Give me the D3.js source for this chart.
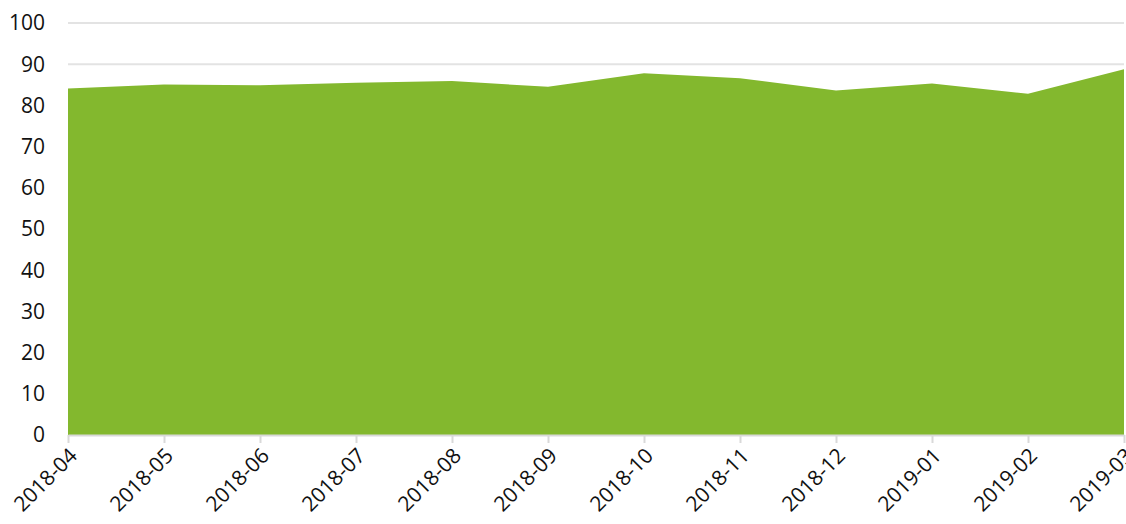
<!DOCTYPE html>
<html lang="en">
<head>
    <meta charset="UTF-8">
    <title>area chart</title>
    <script src="https://d3js.org/d3.v7.min.js"></script>
    <style>
        body { margin: 0; background: #fff; }
        text {
            font-family: "Open Sans", sans-serif;
            font-size: 21px;
            fill: #111;
        }
        .grid line { stroke: #e3e3e3; stroke-width: 2; }
        .area { fill: #83b82e; }
    </style>
</head>
<body>
<div id="chart"></div>
<script>
    const width = 1126;
    const height = 524;

    const months = ["2018-04", "2018-05", "2018-06", "2018-07", "2018-08", "2018-09",
        "2018-10", "2018-11", "2018-12", "2019-01", "2019-02", "2019-03"];
    const values = [84.1, 85.1, 84.9, 85.5, 85.9, 84.5, 87.8, 86.6, 83.6, 85.3, 82.8, 88.8];
    const yTicks = [0, 10, 20, 30, 40, 50, 60, 70, 80, 90, 100];

    const x = d3.scalePoint().domain(months).range([68, 1124]);
    const y = d3.scaleLinear().domain([0, 100]).range([435, 23]);

    const svg = d3.select("#chart").append("svg")
        .attr("width", width).attr("height", height);

    // gridlines
    svg.append("g").attr("class", "grid")
        .selectAll("line")
        .data(yTicks.filter(d => d > 0))
        .enter().append("line")
        .attr("x1", 68).attr("x2", 1124)
        .attr("y1", d => y(d)).attr("y2", d => y(d));

    // area
    const area = d3.area()
        .x((d, i) => x(months[i]))
        .y0(y(0))
        .y1(d => y(d));
    svg.append("path").datum(values).attr("class", "area").attr("d", area);

    // y labels
    svg.append("g").selectAll("text")
        .data(yTicks)
        .enter().append("text")
        .attr("x", 45).attr("y", d => y(d))
        .attr("dy", "0.35em")
        .attr("text-anchor", "end")
        .text(d => d);

    // x axis
    const xAxis = svg.append("g")
        .attr("transform", `translate(0,${y(0)})`)
        .call(d3.axisBottom(x).tickSize(8).tickSizeOuter(0));
    xAxis.select(".domain").attr("stroke", "#d9d9d9").attr("stroke-width", 2);
    xAxis.selectAll(".tick line").attr("stroke", "#d9d9d9").attr("stroke-width", 2);
    xAxis.selectAll(".tick text")
        .attr("font-size", 21)
        .attr("font-family", "'Open Sans', sans-serif")
        .attr("fill", "#111")
        .attr("text-anchor", "end")
        .attr("dy", null)
        .attr("y", 0)
        .attr("transform", "translate(10,22) rotate(-45)");
</script>
</body>
</html>
